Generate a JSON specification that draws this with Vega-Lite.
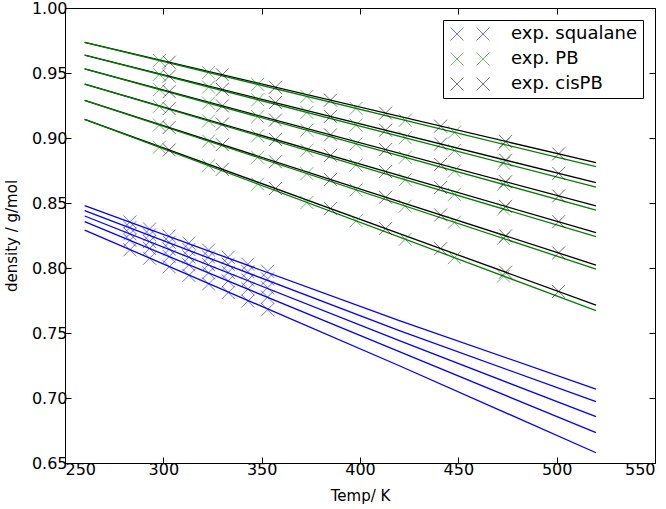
{
  "$schema": "https://vega.github.io/schema/vega-lite/v6.json",
  "width": 590,
  "height": 455,
  "autosize": {"type": "none"},
  "padding": {"left": 65, "top": 8, "right": 11, "bottom": 46},
  "config": {
    "view": {"stroke": "#000000", "strokeWidth": 1},
    "font": "DejaVu Sans",
    "axis": {
      "labelFont": "DejaVu Sans", "labelFontSize": 16, "labelColor": "#000000",
      "titleFont": "DejaVu Sans", "titleFontSize": 15, "titleFontWeight": "normal", "titleColor": "#000000",
      "domainColor": "#000000", "tickColor": "#000000", "tickSize": -6, "grid": false, "labelPadding": 4
    },
    "legend": {
      "orient": "top-right", "offset": 12, "strokeColor": "#000000", "fillColor": "#ffffff",
      "padding": 5, "cornerRadius": 0, "labelFont": "DejaVu Sans", "labelFontSize": 18, "labelColor": "#000000",
      "symbolType": "M-1,-1L1,1M-1,1L1,-1M3,-1L5,1M3,1L5,-1", "symbolSize": 169, "symbolStrokeWidth": 1,
      "symbolFillColor": "transparent", "symbolOpacity": 0.55, "rowPadding": 7, "labelOffset": 45
    }
  },
  "datasets": {
    "lines": [
      {"id": "s1", "g": "squalane", "T": 260, "d": 0.8479}, {"id": "s1", "g": "squalane", "T": 420, "d": 0.7595}, {"id": "s1", "g": "squalane", "T": 520, "d": 0.7069},
      {"id": "s2", "g": "squalane", "T": 260, "d": 0.8441}, {"id": "s2", "g": "squalane", "T": 420, "d": 0.7518}, {"id": "s2", "g": "squalane", "T": 520, "d": 0.6972},
      {"id": "s3", "g": "squalane", "T": 260, "d": 0.8400}, {"id": "s3", "g": "squalane", "T": 420, "d": 0.7441}, {"id": "s3", "g": "squalane", "T": 520, "d": 0.6856},
      {"id": "s4", "g": "squalane", "T": 260, "d": 0.8356}, {"id": "s4", "g": "squalane", "T": 420, "d": 0.7356}, {"id": "s4", "g": "squalane", "T": 520, "d": 0.6733},
      {"id": "s5", "g": "squalane", "T": 260, "d": 0.8292}, {"id": "s5", "g": "squalane", "T": 420, "d": 0.7248}, {"id": "s5", "g": "squalane", "T": 520, "d": 0.6579},
      {"id": "c1", "g": "cisPB", "T": 260, "d": 0.9736}, {"id": "c1", "g": "cisPB", "T": 520, "d": 0.8810},
      {"id": "c2", "g": "cisPB", "T": 260, "d": 0.9638}, {"id": "c2", "g": "cisPB", "T": 520, "d": 0.8656},
      {"id": "c3", "g": "cisPB", "T": 260, "d": 0.9531}, {"id": "c3", "g": "cisPB", "T": 520, "d": 0.8477},
      {"id": "c4", "g": "cisPB", "T": 260, "d": 0.9415}, {"id": "c4", "g": "cisPB", "T": 520, "d": 0.8272},
      {"id": "c5", "g": "cisPB", "T": 260, "d": 0.9290}, {"id": "c5", "g": "cisPB", "T": 520, "d": 0.8023},
      {"id": "c6", "g": "cisPB", "T": 260, "d": 0.9144}, {"id": "c6", "g": "cisPB", "T": 520, "d": 0.7715},
      {"id": "p1", "g": "PB", "T": 260, "d": 0.9736}, {"id": "p1", "g": "PB", "T": 520, "d": 0.8779},
      {"id": "p2", "g": "PB", "T": 260, "d": 0.9638}, {"id": "p2", "g": "PB", "T": 520, "d": 0.8623},
      {"id": "p3", "g": "PB", "T": 260, "d": 0.9531}, {"id": "p3", "g": "PB", "T": 520, "d": 0.8446},
      {"id": "p4", "g": "PB", "T": 260, "d": 0.9415}, {"id": "p4", "g": "PB", "T": 520, "d": 0.8241},
      {"id": "p5", "g": "PB", "T": 260, "d": 0.9290}, {"id": "p5", "g": "PB", "T": 520, "d": 0.7992},
      {"id": "p6", "g": "PB", "T": 260, "d": 0.9144}, {"id": "p6", "g": "PB", "T": 520, "d": 0.7672}
    ],
    "pts": [
      {"s": "exp. squalane", "T": 283, "d": 0.8354}, {"s": "exp. squalane", "T": 293, "d": 0.8300}, {"s": "exp. squalane", "T": 303, "d": 0.8246}, {"s": "exp. squalane", "T": 313, "d": 0.8192},
      {"s": "exp. squalane", "T": 323, "d": 0.8138}, {"s": "exp. squalane", "T": 333, "d": 0.8083}, {"s": "exp. squalane", "T": 343, "d": 0.8029}, {"s": "exp. squalane", "T": 353, "d": 0.7975},
      {"s": "exp. squalane", "T": 283, "d": 0.8311}, {"s": "exp. squalane", "T": 293, "d": 0.8255}, {"s": "exp. squalane", "T": 303, "d": 0.8198}, {"s": "exp. squalane", "T": 313, "d": 0.8142},
      {"s": "exp. squalane", "T": 323, "d": 0.8085}, {"s": "exp. squalane", "T": 333, "d": 0.8029}, {"s": "exp. squalane", "T": 343, "d": 0.7972}, {"s": "exp. squalane", "T": 353, "d": 0.7916},
      {"s": "exp. squalane", "T": 283, "d": 0.8263}, {"s": "exp. squalane", "T": 293, "d": 0.8204}, {"s": "exp. squalane", "T": 303, "d": 0.8145}, {"s": "exp. squalane", "T": 313, "d": 0.8085},
      {"s": "exp. squalane", "T": 323, "d": 0.8026}, {"s": "exp. squalane", "T": 333, "d": 0.7966}, {"s": "exp. squalane", "T": 343, "d": 0.7907}, {"s": "exp. squalane", "T": 353, "d": 0.7848},
      {"s": "exp. squalane", "T": 283, "d": 0.8213}, {"s": "exp. squalane", "T": 293, "d": 0.8150}, {"s": "exp. squalane", "T": 303, "d": 0.8088}, {"s": "exp. squalane", "T": 313, "d": 0.8025},
      {"s": "exp. squalane", "T": 323, "d": 0.7963}, {"s": "exp. squalane", "T": 333, "d": 0.7901}, {"s": "exp. squalane", "T": 343, "d": 0.7838}, {"s": "exp. squalane", "T": 353, "d": 0.7776},
      {"s": "exp. squalane", "T": 283, "d": 0.8140}, {"s": "exp. squalane", "T": 293, "d": 0.8075}, {"s": "exp. squalane", "T": 303, "d": 0.8009}, {"s": "exp. squalane", "T": 313, "d": 0.7943},
      {"s": "exp. squalane", "T": 323, "d": 0.7877}, {"s": "exp. squalane", "T": 333, "d": 0.7811}, {"s": "exp. squalane", "T": 343, "d": 0.7745}, {"s": "exp. squalane", "T": 353, "d": 0.7679},

      {"s": "exp. PB", "T": 298, "d": 0.9596}, {"s": "exp. PB", "T": 323, "d": 0.9504}, {"s": "exp. PB", "T": 348, "d": 0.9412}, {"s": "exp. PB", "T": 373, "d": 0.9320},
      {"s": "exp. PB", "T": 398, "d": 0.9228}, {"s": "exp. PB", "T": 423, "d": 0.9136}, {"s": "exp. PB", "T": 448, "d": 0.9044}, {"s": "exp. PB", "T": 473, "d": 0.8952},
      {"s": "exp. PB", "T": 298, "d": 0.9490}, {"s": "exp. PB", "T": 323, "d": 0.9392}, {"s": "exp. PB", "T": 348, "d": 0.9294}, {"s": "exp. PB", "T": 373, "d": 0.9197},
      {"s": "exp. PB", "T": 398, "d": 0.9099}, {"s": "exp. PB", "T": 423, "d": 0.9002}, {"s": "exp. PB", "T": 448, "d": 0.8904}, {"s": "exp. PB", "T": 473, "d": 0.8806},
      {"s": "exp. PB", "T": 298, "d": 0.9372}, {"s": "exp. PB", "T": 323, "d": 0.9268}, {"s": "exp. PB", "T": 348, "d": 0.9164}, {"s": "exp. PB", "T": 373, "d": 0.9060},
      {"s": "exp. PB", "T": 398, "d": 0.8955}, {"s": "exp. PB", "T": 423, "d": 0.8851}, {"s": "exp. PB", "T": 448, "d": 0.8747}, {"s": "exp. PB", "T": 473, "d": 0.8642},
      {"s": "exp. PB", "T": 298, "d": 0.9243}, {"s": "exp. PB", "T": 323, "d": 0.9131}, {"s": "exp. PB", "T": 348, "d": 0.9018}, {"s": "exp. PB", "T": 373, "d": 0.8905},
      {"s": "exp. PB", "T": 398, "d": 0.8792}, {"s": "exp. PB", "T": 423, "d": 0.8679}, {"s": "exp. PB", "T": 448, "d": 0.8566}, {"s": "exp. PB", "T": 473, "d": 0.8453},
      {"s": "exp. PB", "T": 298, "d": 0.9100}, {"s": "exp. PB", "T": 323, "d": 0.8976}, {"s": "exp. PB", "T": 348, "d": 0.8851}, {"s": "exp. PB", "T": 373, "d": 0.8726},
      {"s": "exp. PB", "T": 398, "d": 0.8601}, {"s": "exp. PB", "T": 423, "d": 0.8476}, {"s": "exp. PB", "T": 448, "d": 0.8352}, {"s": "exp. PB", "T": 473, "d": 0.8227},
      {"s": "exp. PB", "T": 298, "d": 0.8929}, {"s": "exp. PB", "T": 323, "d": 0.8787}, {"s": "exp. PB", "T": 348, "d": 0.8646}, {"s": "exp. PB", "T": 373, "d": 0.8504},
      {"s": "exp. PB", "T": 398, "d": 0.8363}, {"s": "exp. PB", "T": 423, "d": 0.8221}, {"s": "exp. PB", "T": 448, "d": 0.8080}, {"s": "exp. PB", "T": 473, "d": 0.7938},

      {"s": "exp. cisPB", "T": 303, "d": 0.9583}, {"s": "exp. cisPB", "T": 330, "d": 0.9487}, {"s": "exp. cisPB", "T": 357, "d": 0.9390}, {"s": "exp. cisPB", "T": 385, "d": 0.9291},
      {"s": "exp. cisPB", "T": 413, "d": 0.9191}, {"s": "exp. cisPB", "T": 441, "d": 0.9091}, {"s": "exp. cisPB", "T": 474, "d": 0.8974}, {"s": "exp. cisPB", "T": 501, "d": 0.8878},
      {"s": "exp. cisPB", "T": 303, "d": 0.9476}, {"s": "exp. cisPB", "T": 330, "d": 0.9374}, {"s": "exp. cisPB", "T": 357, "d": 0.9272}, {"s": "exp. cisPB", "T": 385, "d": 0.9166},
      {"s": "exp. cisPB", "T": 413, "d": 0.9060}, {"s": "exp. cisPB", "T": 441, "d": 0.8954}, {"s": "exp. cisPB", "T": 474, "d": 0.8830}, {"s": "exp. cisPB", "T": 501, "d": 0.8728},
      {"s": "exp. cisPB", "T": 303, "d": 0.9357}, {"s": "exp. cisPB", "T": 330, "d": 0.9247}, {"s": "exp. cisPB", "T": 357, "d": 0.9138}, {"s": "exp. cisPB", "T": 385, "d": 0.9024},
      {"s": "exp. cisPB", "T": 413, "d": 0.8911}, {"s": "exp. cisPB", "T": 441, "d": 0.8797}, {"s": "exp. cisPB", "T": 474, "d": 0.8663}, {"s": "exp. cisPB", "T": 501, "d": 0.8554},
      {"s": "exp. cisPB", "T": 303, "d": 0.9226}, {"s": "exp. cisPB", "T": 330, "d": 0.9107}, {"s": "exp. cisPB", "T": 357, "d": 0.8989}, {"s": "exp. cisPB", "T": 385, "d": 0.8866},
      {"s": "exp. cisPB", "T": 413, "d": 0.8742}, {"s": "exp. cisPB", "T": 441, "d": 0.8619}, {"s": "exp. cisPB", "T": 474, "d": 0.8474}, {"s": "exp. cisPB", "T": 501, "d": 0.8356},
      {"s": "exp. cisPB", "T": 303, "d": 0.9081}, {"s": "exp. cisPB", "T": 330, "d": 0.8949}, {"s": "exp. cisPB", "T": 357, "d": 0.8817}, {"s": "exp. cisPB", "T": 385, "d": 0.8681},
      {"s": "exp. cisPB", "T": 413, "d": 0.8544}, {"s": "exp. cisPB", "T": 441, "d": 0.8408}, {"s": "exp. cisPB", "T": 474, "d": 0.8247}, {"s": "exp. cisPB", "T": 501, "d": 0.8116},
      {"s": "exp. cisPB", "T": 303, "d": 0.8908}, {"s": "exp. cisPB", "T": 330, "d": 0.8759}, {"s": "exp. cisPB", "T": 357, "d": 0.8611}, {"s": "exp. cisPB", "T": 385, "d": 0.8457},
      {"s": "exp. cisPB", "T": 413, "d": 0.8303}, {"s": "exp. cisPB", "T": 441, "d": 0.8149}, {"s": "exp. cisPB", "T": 474, "d": 0.7968}, {"s": "exp. cisPB", "T": 501, "d": 0.7820}
    ]
  },
  "layer": [
    {
      "data": {"name": "lines"},
      "mark": {"type": "line", "strokeWidth": 1.3},
      "encoding": {
        "x": {"field": "T", "type": "quantitative", "scale": {"domain": [250, 550], "nice": false},
              "axis": {"title": "Temp/ K", "values": [250, 300, 350, 400, 450, 500, 550], "format": "d", "titlePadding": 11}},
        "y": {"field": "d", "type": "quantitative", "scale": {"domain": [0.65, 1.0], "nice": false, "zero": false},
              "axis": {"title": "density / g/mol", "values": [0.65, 0.7, 0.75, 0.8, 0.85, 0.9, 0.95, 1.0], "format": ".2f", "titlePadding": 12}},
        "stroke": {"field": "g", "type": "nominal", "scale": {"domain": ["squalane", "PB", "cisPB"], "range": ["#0000ff", "#008000", "#000000"]}, "legend": null},
        "detail": {"field": "id"},
        "order": {"field": "T"}
      }
    },
    {
      "data": {"name": "pts"},
      "mark": {"type": "point", "shape": "M-1,-1L1,1M-1,1L1,-1", "filled": false, "size": 169, "strokeWidth": 1, "opacity": 0.55},
      "encoding": {
        "x": {"field": "T", "type": "quantitative", "axis": null},
        "y": {"field": "d", "type": "quantitative", "axis": null},
        "color": {"field": "s", "type": "nominal", "scale": {"domain": ["exp. squalane", "exp. PB", "exp. cisPB"], "range": ["#0000ff", "#008000", "#000000"]},
                  "legend": {"title": null}}
      }
    },
    {
      "data": {"name": "lines"},
      "mark": {"type": "line", "opacity": 0},
      "encoding": {
        "x": {"field": "T", "type": "quantitative", "axis": {"orient": "top", "title": null, "labels": false, "values": [250, 300, 350, 400, 450, 500, 550]}},
        "y": {"field": "d", "type": "quantitative", "axis": {"orient": "right", "title": null, "labels": false, "values": [0.65, 0.7, 0.75, 0.8, 0.85, 0.9, 0.95, 1.0]}},
        "detail": {"field": "id"}
      }
    }
  ],
  "resolve": {"axis": {"x": "independent", "y": "independent"}}
}
